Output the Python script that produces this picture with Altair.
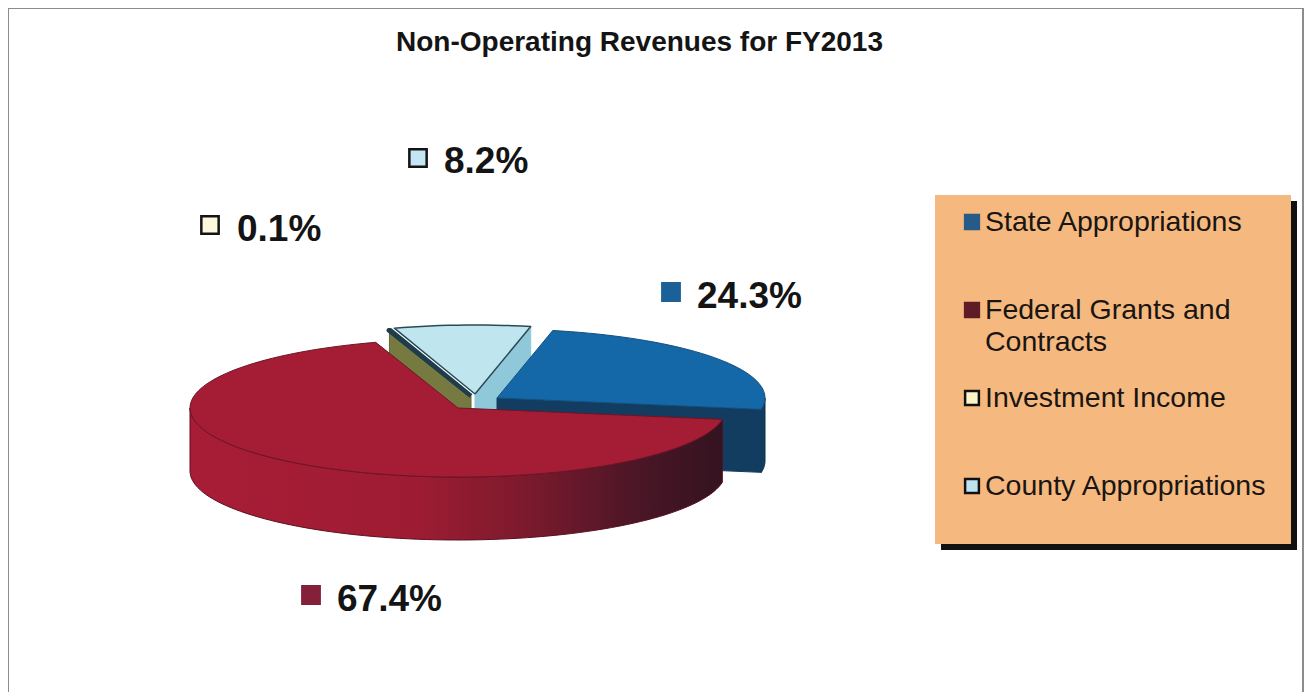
import numpy as np
import pandas as pd
import altair as alt

# ---- chart values ----
categories = ["State Appropriations", "Federal Grants and Contracts", "Investment Income", "County Appropriations"]
shares = [24.3, 67.4, 0.1, 8.2]
share_labels = ["24.3%", "67.4%", "0.1%", "8.2%"]
legend_lines = [["State Appropriations"], ["Federal Grants and", "Contracts"], ["Investment Income"], ["County Appropriations"]]
title_text = "Non-Operating Revenues for FY2013"

# ---- styling / layout, in page pixels ----
W, H = 1296, 684
label_sym_x = [671, 311, 210, 418]
label_sym_y = [292, 595, 225, 158]
label_txt_x = [697, 337, 237, 444]
label_txt_y = [297, 600, 230, 162]
label_fill = ["#1c6098", "#85203a", "#fdf8dc", "#c4e6f2"]
label_stroke = ["#1c6098", "#85203a", "#141414", "#141414"]
legend_fill = ["#265a87", "#5f1c26", "#fdf3c8", "#bfe3ee"]
legend_stroke = ["#265a87", "#5f1c26", "#111111", "#111111"]

RX, RY, DEPTH, START = 268.0, 69.0, 63.0, 12.0
xs = alt.Scale(domain=[8, 8 + W], range=[0, W], nice=False, zero=False)
ys = alt.Scale(domain=[8, 8 + H], range=[0, H], nice=False, zero=False)

# cumulative slice angles, clockwise from 12 o'clock
spans = [s / sum(shares) * 360 for s in shares]
bounds = [START]
for s in spans:
    bounds.append(bounds[-1] + s)


def rim(c, a0, a1, dy=0.0, rx=RX):
    t = np.radians(np.linspace(a0, a1, max(2, int(abs(a1 - a0) / 2) + 2)))
    return [(c[0] + rx * np.sin(v), c[1] - RY * np.cos(v) + dy) for v in t]


def sector(c, a0, a1, rx=RX):
    return [c] + rim(c, a0, a1, rx=rx) + [c]


def outer_wall(c, a0, a1, rx=RX):
    pts = rim(c, a0, a1, rx=rx) + rim(c, a1, a0, DEPTH, rx=rx)
    return pts + [pts[0]]


def cut_face(c, a, rx=RX):
    tip = rim(c, a, a, rx=rx)[0]
    low_tip = (tip[0], tip[1] + DEPTH)
    low_c = (c[0], c[1] + DEPTH)
    return [c, tip, low_tip, low_c, c]


def poly(pts, fill, stroke=None, sw=1.0):
    df = pd.DataFrame(pts, columns=["x", "y"])
    df["i"] = range(len(df))
    kw = dict(fill=fill, strokeWidth=sw, interpolate="linear", strokeJoin="round")
    kw["stroke"] = stroke if stroke else "transparent"
    return alt.Chart(df).mark_line(**kw).encode(
        x=alt.X("x:Q", scale=xs, axis=None),
        y=alt.Y("y:Q", scale=ys, axis=None),
        order="i:Q",
    )


blue_c = (497.0, 398.0)
red_c = (458.0, 408.0)
inv_c = (471.0, 396.0)
cty_c = (475.0, 394.0)

wall_grad = alt.Gradient(
    gradient="linear", x1=0, x2=1, y1=0, y2=0,
    stops=[
        alt.GradientStop(offset=0, color="#a81d36"),
        alt.GradientStop(offset=0.42, color="#9e1c33"),
        alt.GradientStop(offset=0.62, color="#7e1a2d"),
        alt.GradientStop(offset=0.85, color="#491626"),
        alt.GradientStop(offset=1, color="#341320"),
    ],
)

pie = [
    poly(cut_face(cty_c, bounds[4] % 360), "#8fc9d9", "#8fc9d9"),
    poly(cut_face(inv_c, bounds[3] - 0.2), "#777a40", "#5f6236"),
    poly(sector(inv_c, bounds[2], bounds[3]), "#1f3c4c", "#1f3c4c", 4.5),
    poly(sector(cty_c, bounds[3], bounds[4]), "#bfe6ef", "#2b4a55", 1.5),
    poly(outer_wall(blue_c, 90, bounds[1]), "#123c60", "#0d2f4d"),
    poly(cut_face(blue_c, bounds[1]), "#123c60", "#123c60"),
    poly(sector(blue_c, bounds[0], bounds[1]), "#1468a8", "#134f7f"),
    poly(outer_wall(red_c, bounds[1], 270), wall_grad, "#5a1020"),
    poly(sector(red_c, bounds[1], bounds[2]), "#a51d35", "#6d1526"),
]

# frame
frame = pd.DataFrame({"x": [8, 8, 1303], "x2": [1303, 8, 1303], "y": [8, 8, 8], "y2": [8, 692, 692]})
frame_layer = alt.Chart(frame).mark_rule(color="#8c8c8c", strokeWidth=2).encode(
    x=alt.X("x:Q", scale=xs, axis=None), x2="x2:Q",
    y=alt.Y("y:Q", scale=ys, axis=None), y2="y2:Q",
)


# legend panel and shadow
def panel_rect(x, x2, y, y2, colour):
    df = pd.DataFrame({"x": [x], "x2": [x2], "y": [y], "y2": [y2]})
    return alt.Chart(df).mark_rect(color=colour).encode(
        x=alt.X("x:Q", scale=xs, axis=None), x2="x2:Q",
        y=alt.Y("y:Q", scale=ys, axis=None), y2="y2:Q",
    )


shadow_layer = panel_rect(941, 1297, 201, 550, "#111111")
panel_layer = panel_rect(935, 1291, 195, 544, "#f5b97f")

rows = [222 + 88 * i for i in range(len(categories))]
leg_sym = pd.DataFrame({"x": [972] * 4, "y": rows, "f": legend_fill, "s": legend_stroke, "cat": categories})
leg_sym_layer = alt.Chart(leg_sym).mark_point(shape="square", filled=True, size=190, strokeWidth=2.5, opacity=1).encode(
    x=alt.X("x:Q", scale=xs, axis=None), y=alt.Y("y:Q", scale=ys, axis=None),
    fill=alt.Fill("f:N", scale=None), stroke=alt.Stroke("s:N", scale=None),
)
leg_txt = []
for lines, y0 in zip(legend_lines, rows):
    for j, line in enumerate(lines):
        leg_txt.append({"x": 985, "y": y0 + 32 * j, "t": line})
leg_txt_layer = alt.Chart(pd.DataFrame(leg_txt)).mark_text(
    align="left", baseline="middle", font="Liberation Sans", fontSize=28.5, color="#1a1512"
).encode(x=alt.X("x:Q", scale=xs, axis=None), y=alt.Y("y:Q", scale=ys, axis=None), text="t:N")

# data labels
lab = pd.DataFrame({"sx": label_sym_x, "sy": label_sym_y, "tx": label_txt_x, "ty": label_txt_y,
                    "t": share_labels, "f": label_fill, "s": label_stroke})
lab_sym_layer = alt.Chart(lab).mark_point(shape="square", filled=True, size=300, strokeWidth=2.5, opacity=1).encode(
    x=alt.X("sx:Q", scale=xs, axis=None), y=alt.Y("sy:Q", scale=ys, axis=None),
    fill=alt.Fill("f:N", scale=None), stroke=alt.Stroke("s:N", scale=None),
)
lab_txt_layer = alt.Chart(lab).mark_text(
    align="left", baseline="middle", font="Liberation Sans", fontWeight="bold", fontSize=37, color="#141414"
).encode(x=alt.X("tx:Q", scale=xs, axis=None), y=alt.Y("ty:Q", scale=ys, axis=None), text="t:N")

chart = alt.layer(
    frame_layer, *pie, shadow_layer, panel_layer, leg_sym_layer, leg_txt_layer, lab_sym_layer, lab_txt_layer
).properties(
    width=W, height=H, padding=0, autosize=alt.AutoSizeParams(type="none"),
    title=alt.TitleParams(title_text, anchor="start", dx=389, dy=54, font="Liberation Sans",
                          fontWeight="bold", fontSize=28, color="#141414"),
    background="white",
).resolve_scale(fill="independent", stroke="independent").configure_view(stroke=None)

chart.save("out.html", embed_options={"renderer": "svg", "actions": False})
